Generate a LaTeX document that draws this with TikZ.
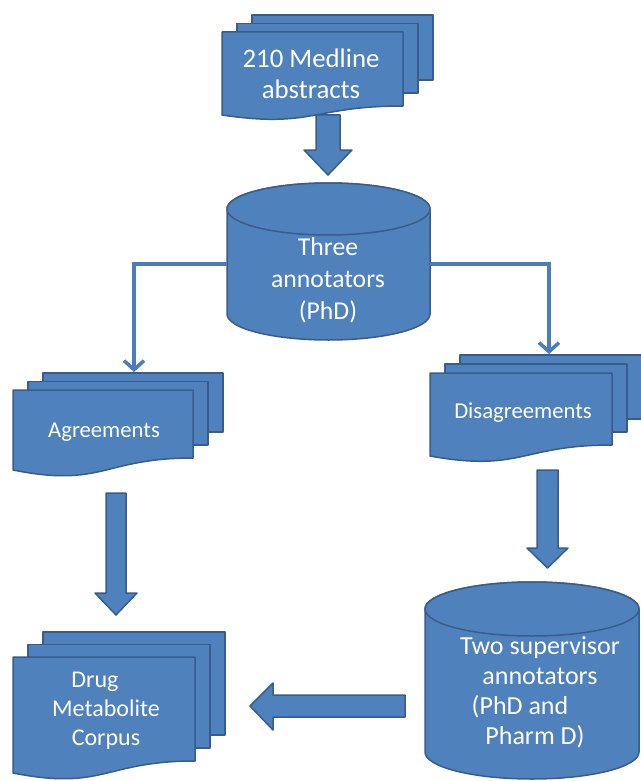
\documentclass[tikz,border=0pt]{standalone}
\usepackage{fontspec}
\setmainfont{Carlito}
\usetikzlibrary{arrows.meta}
\definecolor{fillb}{RGB}{79,129,189}
\definecolor{edgeb}{RGB}{56,93,138}
\definecolor{lineb}{RGB}{74,126,187}
% multi-document: x y (front top-left), w, hr (front right height), dy (stack offset), a (wave)
\newcommand\mdoc[6]{%
  \filldraw[shp] (#1+30,#2-2*#5) rectangle (#1+#3+30,#2+#4-26);
  \filldraw[shp] (#1+15,#2-#5) rectangle (#1+#3+15,#2+#4-13);
  \filldraw[shp] (#1,#2) -- (#1+#3,#2) -- (#1+#3,#2+#4)
     .. controls (#1+#3/2,#2+#4) and (#1+#3/2,#2+#4+2.5*#6) .. (#1,#2+#4+#6) -- cycle;
}
% cylinder: cx, rx, top centre y, bottom centre y, ry
\newcommand\cyl[5]{%
  \filldraw[shp] (#1-#2,#3) -- (#1-#2,#4)
     arc[start angle=180,end angle=0,x radius=#2,y radius=#5]
     -- (#1+#2,#3)
     arc[start angle=0,end angle=-180,x radius=#2,y radius=#5] -- cycle;
  \draw[shp] (#1,#3) ellipse[x radius=#2,y radius=#5];
}
\begin{document}
\begin{tikzpicture}[x=1pt,y=-1pt,
  shp/.style={fill=fillb,draw=edgeb,line width=1.5pt,line join=round},
  conn/.style={draw=lineb,line width=3.5pt,-{Straight Barb[length=9pt,width=20pt]}},
  txt/.style={text=white,align=center,inner sep=0pt}]
\useasboundingbox (0,0) rectangle (640,781);

% 210 Medline abstracts
\mdoc{222}{32}{181}{74}{8.5}{9}
\node[txt,font=\fontsize{26.8}{31}\selectfont] (medline) at (311,74) {210 Medline\\abstracts};

% block arrow down
\filldraw[shp] (316,115) -- (340,115) -- (340,150) -- (352,150) -- (328,175) -- (304,150) -- (316,150) -- cycle;

% Three annotators
\cyl{328.5}{101.5}{209}{314}{26}
\node[txt,font=\fontsize{25.7}{32}\selectfont] (three) at (328,280) {Three\\annotators\\(PhD)};
\coordinate (threeW) at (227,264);
\coordinate (threeE) at (430,264);

% Agreements
\mdoc{13}{390}{180}{68}{8.5}{12}
\node[txt,font=\fontsize{22.7}{27}\selectfont] (agree) at (104,432) {Agreements};
\coordinate (agreeIn) at (134,372);

% Disagreements
\mdoc{430}{373}{182}{72}{9}{11}
\node[txt,font=\fontsize{22.7}{27}\selectfont] (disagree) at (523,413) {Disagreements};
\coordinate (disIn) at (549,354);

\draw[conn] (threeW) -| (agreeIn);
\draw[conn] (threeE) -| (disIn);

% block arrows
\filldraw[shp] (106,493) -- (126,493) -- (126,593) -- (137,593) -- (116,615) -- (95,593) -- (106,593) -- cycle;
\filldraw[shp] (537,470) -- (558,470) -- (558,548) -- (568,548) -- (547.5,568) -- (527,548) -- (537,548) -- cycle;

% Two supervisor annotators
\cyl{532}{107}{609}{752}{27}
\node[txt,font=\fontsize{26}{30}\selectfont] (two) at (540,692) {Two supervisor\\annotators\\\hbox{(PhD and\kern40pt}\\\hbox{Pharm D)\kern10pt}};

% left block arrow
\filldraw[shp] (405,695) -- (405,717) -- (273,717) -- (273,730) -- (250,706) -- (273,683) -- (273,695) -- cycle;

% Drug Metabolite Corpus
\mdoc{13}{657}{182}{104}{12.5}{12}
\node[txt,font=\fontsize{24}{29}\selectfont] (corpus) at (106,711) {\hbox{Drug\kern22pt}\\Metabolite\\Corpus};
\end{tikzpicture}
\end{document}
